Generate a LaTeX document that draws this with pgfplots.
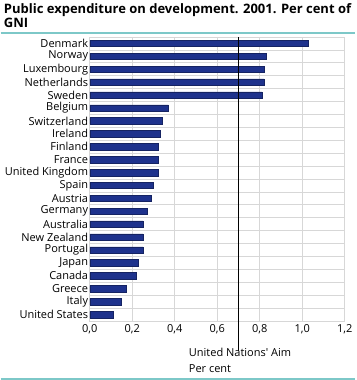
\documentclass[border=0pt]{standalone}
\usepackage{fontspec}
\setmainfont{Open Sans}
\usepackage{pgfplots}
\pgfplotsset{compat=1.18}
\definecolor{barblue}{RGB}{30,50,140}
\definecolor{teal}{RGB}{125,200,200}
\definecolor{gridgray}{RGB}{215,215,215}
\pgfplotstableread[col sep=comma]{
idx,country,value
0,Denmark,1.03
1,Norway,0.83
2,Luxembourg,0.82
3,Netherlands,0.82
4,Sweden,0.81
5,Belgium,0.37
6,Switzerland,0.34
7,Ireland,0.33
8,Finland,0.32
9,France,0.32
10,United Kingdom,0.32
11,Spain,0.30
12,Austria,0.29
13,Germany,0.27
14,Australia,0.25
15,New Zealand,0.25
16,Portugal,0.25
17,Japan,0.23
18,Canada,0.22
19,Greece,0.17
20,Italy,0.15
21,United States,0.11
}\datatable
\begin{document}
\begin{tikzpicture}[x=1pt,y=1pt]
\path (0,0) rectangle (356,-380);
\node[anchor=north west,font=\bfseries\fontsize{13}{14.5}\selectfont,align=left,inner sep=0pt] at (3,-3) {Public expenditure on development. 2001. Per cent of\\GNI};
\draw[teal,line width=1.5pt] (0,-33) -- (354,-33);
\draw[teal,line width=1.5pt] (0,-379) -- (354,-379);
\begin{axis}[
  at={(89pt,-321pt)}, anchor=south west,
  scale only axis, width=255pt, height=284pt,
  xbar, bar width=6.5pt,
  xmin=0, xmax=1.2,
  ymin=-0.5, ymax=21.5,
  y dir=reverse,
  ytick={0,...,21},
  yticklabels from table={\datatable}{country},
  minor ytick={0.5,1.5,...,20.5},
  ymajorgrids=false, yminorgrids=true,
  xtick={0,0.2,...,1.2},
  xmajorgrids=true,
  grid style={gridgray, line width=0.8pt},
  minor grid style={gridgray, line width=0.8pt},
  axis line style={gridgray, line width=0.8pt},
  tick style={draw=none},
  minor tick length=0pt,
  major tick length=0pt,
  ticklabel style={font=\fontsize{11}{12}\selectfont},
  yticklabel style={inner sep=1.5pt},
  /pgf/number format/assume math mode=true,
  xticklabel={\pgfmathprintnumber[fixed,fixed zerofill,precision=1,use comma]{\tick}},
  clip=false,
]
\addplot[fill=barblue, draw=barblue!70!black, line width=0.5pt] table[x=value,y=idx]{\datatable};
\draw[black, line width=1.3pt] (axis cs:0.7,-0.5) -- (axis cs:0.7,21.5) -- ++(0,-24pt);
\end{axis}
\node[anchor=west,font=\fontsize{11}{12}\selectfont,inner sep=0pt] at (188,-352) {United Nations\textquotesingle\ Aim};
\node[anchor=west,font=\fontsize{11}{12}\selectfont,inner sep=0pt] at (188,-369) {Per cent};
\end{tikzpicture}
\end{document}
